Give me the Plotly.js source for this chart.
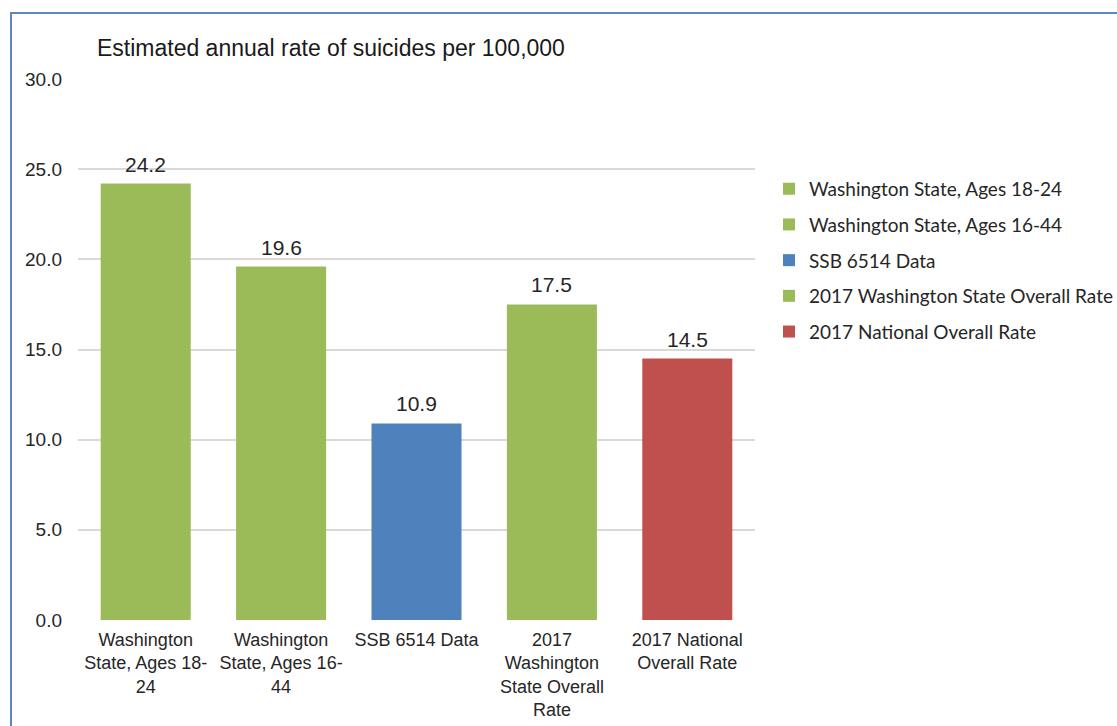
<!DOCTYPE html>
<html>
<head>
<meta charset="utf-8">
<script src="https://cdn.plot.ly/plotly-3.0.1.min.js"></script>
<style>
  html, body { margin: 0; padding: 0; width: 1117px; height: 726px; overflow: hidden; background: #fff; }
  #frame { position: absolute; left: 10px; top: 12px; width: 1300px; height: 900px; border: 2px solid #5b86c2; box-sizing: border-box; pointer-events: none; z-index: 2; }
  #chart { position: absolute; left: 0; top: 0; width: 1117px; height: 726px; }
</style>
</head>
<body>
<div id="chart"></div>
<div id="frame"></div>
<script>
const categories = [
  "Washington State, Ages 18-24",
  "Washington State, Ages 16-44",
  "SSB 6514 Data",
  "2017 Washington State Overall Rate",
  "2017 National Overall Rate"
];
const tickLabels = [
  "Washington<br>State, Ages 18-<br>24",
  "Washington<br>State, Ages 16-<br>44",
  "SSB 6514 Data",
  "2017<br>Washington<br>State Overall<br>Rate",
  "2017 National<br>Overall Rate"
];
const values = [24.2, 19.6, 10.9, 17.5, 14.5];
const colors = ["#9bbb59", "#9bbb59", "#4f81bd", "#9bbb59", "#c0504d"];
const yTicks = [0, 5, 10, 15, 20, 25, 30];

const traces = categories.map((c, i) => ({
  type: "bar",
  name: c,
  legendgroup: "g" + i,
  x: [c],
  y: [values[i]],
  width: 0.665,
  marker: { color: colors[i] },
  hoverinfo: "x+y"
}));

const annotations = categories.map((c, i) => ({
  x: c, y: values[i], xref: "x", yref: "y",
  text: values[i].toFixed(1),
  showarrow: false, yanchor: "bottom", yshift: 6,
  font: { family: "Liberation Sans, Arial, sans-serif", size: 21, color: "#262626" }
}));

const layout = {
  width: 1117, height: 726,
  margin: { l: 78, r: 362, t: 79, b: 106, pad: 0, autoexpand: false },
  paper_bgcolor: "#ffffff", plot_bgcolor: "#ffffff",
  barmode: "overlay",
  showlegend: true,
  title: {
    text: "Estimated annual rate of suicides per 100,000",
    font: { family: "Liberation Sans, Arial, sans-serif", size: 23, color: "#1a1a1a" },
    xref: "paper", x: 0.028, xanchor: "left",
    yref: "container", y: 1 - 48 / 726, yanchor: "middle"
  },
  xaxis: {
    type: "category",
    categoryarray: categories,
    tickvals: categories,
    ticktext: tickLabels,
    range: [-0.5, 4.5],
    showgrid: false, zeroline: false, showline: false,
    ticks: "", ticklabelstandoff: 7,
    tickfont: { family: "Liberation Sans, Arial, sans-serif", size: 18, color: "#262626" }
  },
  yaxis: {
    range: [0, 30],
    tickvals: yTicks,
    tickformat: ".1f",
    showgrid: true, gridcolor: "#d9d9d9", gridwidth: 1.5,
    zeroline: false, showline: false,
    ticks: "", ticklabelstandoff: 15,
    tickfont: { family: "Liberation Sans, Arial, sans-serif", size: 19, color: "#262626" }
  },
  legend: {
    x: 1.0207, xanchor: "left", xref: "paper",
    y: 0.832, yanchor: "top",
    traceorder: "grouped",
    tracegroupgap: 8,
    bgcolor: "rgba(0,0,0,0)",
    font: { family: "Lato, sans-serif", size: 19, color: "#262626" }
  },
  annotations: annotations
};

Plotly.newPlot("chart", traces, layout, { displayModeBar: false });
</script>
</body>
</html>
